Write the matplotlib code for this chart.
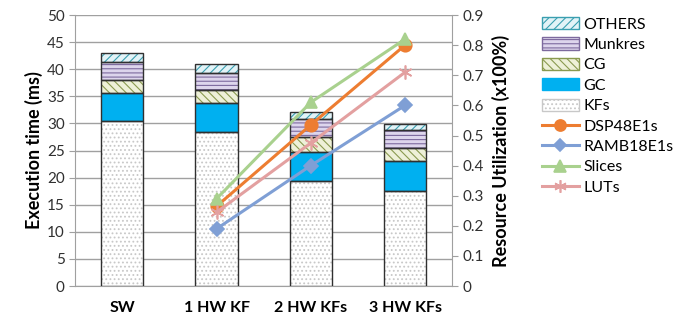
#!/usr/bin/env python3

"""
stacked execution time bars with resource utilization lines on a twin axis
"""

import numpy as np
import matplotlib as mpl
import matplotlib.pyplot as plt
from matplotlib.patches import Patch
from matplotlib.lines import Line2D

# execution time breakdown (ms)
configs = ["SW", "1 HW KF", "2 HW KFs", "3 HW KFs"]
kfs = [30.4, 28.4, 19.4, 17.6]
gc = [5.3, 5.3, 5.4, 5.5]
cg = [2.4, 2.4, 2.7, 2.4]
munkres = [3.2, 3.25, 3.3, 3.3]
others = [1.7, 1.55, 1.4, 1.15]

# resource utilization for the hardware configs (fraction)
hw_configs = ["1 HW KF", "2 HW KFs", "3 HW KFs"]
dsp48e1s = [0.265, 0.535, 0.80]
ramb18e1s = [0.19, 0.40, 0.60]
slices = [0.29, 0.61, 0.82]
luts = [0.245, 0.475, 0.71]


def main():
    mpl.rcParams['font.family'] = 'Lato'
    mpl.rcParams['font.size'] = 11.
    mpl.rcParams['hatch.linewidth'] = 0.8

    fig = plt.figure(figsize=(6.83, 3.2), dpi=100)
    ax = fig.add_axes([0.110, 0.106, 0.552, 0.847])

    x = np.arange(len(configs))
    w = 0.45

    # stacked bars, bottom to top
    layers = [
        (kfs, "KFs", "white", "....", "#c8c8c8"),
        (gc, "GC", "#00b0f0", "", "#00b0f0"),
        (cg, "CG", "#eef0d8", "\\\\\\\\", "#8a9a50"),
        (munkres, "Munkres", "#ddd5ec", "----", "#7d6a9e"),
        (others, "OTHERS", "#e2f3f7", "////", "#3a9fb0"),
    ]
    bottom = np.zeros(len(configs))
    handles = []
    for vals, name, fc, hatch, hc in layers:
        vals = np.array(vals)
        ax.bar(x, vals, w, bottom=bottom, color=fc, hatch=hatch,
               edgecolor=hc, linewidth=0, zorder=2)
        ax.bar(x, vals, w, bottom=bottom, fill=False,
               edgecolor="#303030", linewidth=1.0, zorder=3)
        bottom += vals
        handles.append(Patch(facecolor=fc, hatch=hatch, edgecolor=hc, label=name))
    handles = handles[::-1]

    ax.set_xlim(-0.5, 3.5)
    ax.set_ylim(0, 50)
    ax.set_yticks(np.arange(0, 51, 5))
    ax.set_xticks(x)
    ax.set_xticklabels(configs, fontweight="bold", fontsize=11.5)
    ax.tick_params(axis="x", length=0, pad=11)
    ax.tick_params(axis="y", direction="out", length=4, color="#a0a0a0", labelcolor="#303030")
    ax.grid(axis="y", color="#a0a0a0", linewidth=1.0, zorder=0)
    ax.set_axisbelow(True)
    for s in ["top", "right"]:
        ax.spines[s].set_visible(False)
    for s in ["left", "bottom"]:
        ax.spines[s].set_color("#a0a0a0")
    ax.set_ylabel("Execution time (ms)", fontweight="bold", fontsize=13, labelpad=3)

    # utilization lines on the right axis
    rax = ax.twinx()
    rax.set_ylim(0, 0.9)
    rax.set_yticks(np.arange(0, 0.91, 0.1))
    rax.set_yticklabels(["0"] + ["%.1f" % v for v in np.arange(0.1, 0.91, 0.1)])
    rax.tick_params(axis="y", direction="out", length=4, color="#a0a0a0", labelcolor="#303030")
    for s in ["top", "left", "bottom"]:
        rax.spines[s].set_visible(False)
    rax.spines["right"].set_color("#a0a0a0")
    rax.set_ylabel("Resource Utilization (x100%)", fontweight="bold", fontsize=13, labelpad=6)

    xh = np.array([configs.index(c) for c in hw_configs])
    series = [
        (dsp48e1s, "DSP48E1s", "#ed7d31", "o", 9),
        (ramb18e1s, "RAMB18E1s", "#7f9fd5", "D", 7),
        (slices, "Slices", "#a9d18e", "^", 9),
        (luts, "LUTs", "#e3a0a0", (6, 2, 0), 10),
    ]
    for vals, name, c, m, ms in series:
        rax.plot(xh, vals, color=c, marker=m, markersize=ms, linewidth=2.2,
                 markeredgecolor=c, markeredgewidth=1.2, zorder=4)
        handles.append(Line2D([0], [0], color=c, marker=m, markersize=ms - 1,
                              linewidth=2.2, markeredgewidth=1.2, label=name))

    fig.legend(handles=handles, loc="upper left", bbox_to_anchor=(0.782, 0.972),
               frameon=False, fontsize=11.5, handlelength=2.3, handleheight=0.8,
               labelspacing=0.36, handletextpad=0.3, borderpad=0)

    plt.savefig("out.png", dpi=100)


if __name__ == "__main__":
    main()
